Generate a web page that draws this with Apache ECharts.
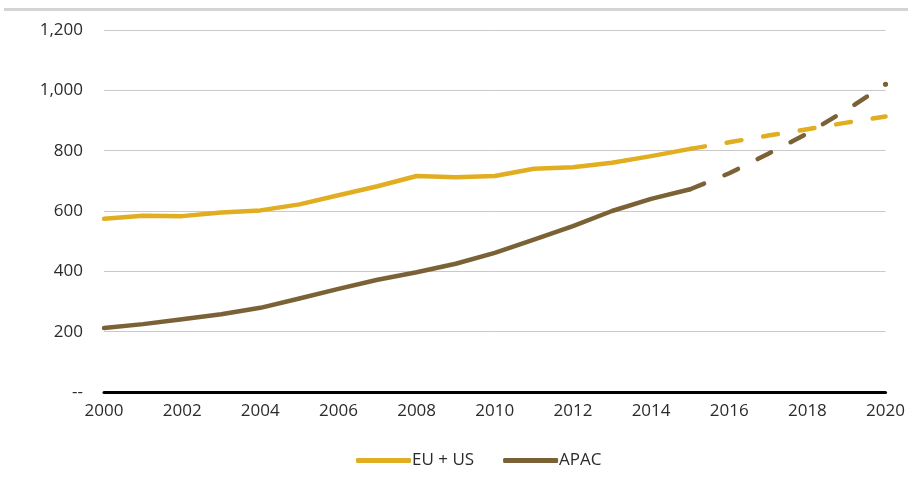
<!DOCTYPE html>
<html>
<head>
<meta charset="utf-8">
<script src="https://cdn.jsdelivr.net/npm/echarts@6/dist/echarts.min.js"></script>
<style>
  html, body { margin: 0; padding: 0; background: #fff; }
  #chart { width: 908px; height: 478px; }
</style>
</head>
<body>
<div id="chart"></div>
<script>
// Years on the x axis
var years = ['2000','2001','2002','2003','2004','2005','2006','2007','2008','2009','2010',
             '2011','2012','2013','2014','2015','2016','2017','2018','2019','2020'];

// Historical values (2000-2015)
var euUsActual = [574, 584, 583, 595, 602, 622, 652, 682, 716, 712, 716, 740, 745, 760, 782, 806];
var apacActual = [212, 225, 241, 258, 279, 310, 342, 372, 397, 425, 461, 505, 550, 600, 640, 672];

// Projected values (2015-2020)
var euUsForecast = [806, 828, 850, 871, 893, 913];
var apacForecast = [672, 725, 790, 857, 935, 1020];

var yTicks = [0, 200, 400, 600, 800, 1000, 1200];

var gold = '#E1AD21';
var brown = '#7B6236';

function padTo(arr, offset) {
  var out = [];
  for (var i = 0; i < years.length; i++) {
    var j = i - offset;
    out.push(j >= 0 && j < arr.length ? arr[j] : null);
  }
  return out;
}

var forecastStart = years.indexOf('2015');
var apacForecastData = padTo(apacForecast, forecastStart).map(function (v, i) {
  if (i === years.length - 1 && v != null) {
    return { value: v, symbol: 'circle', symbolSize: 5 };
  }
  return v;
});

var chart = echarts.init(document.getElementById('chart'));
chart.setOption({
  animation: false,
  textStyle: { fontFamily: 'Open Sans' },
  graphic: [{
    type: 'rect',
    shape: { x: 4, y: 8, width: 904, height: 3 },
    style: { fill: '#d4d4d4' },
    silent: true
  }],
  grid: { left: 104, right: 22, top: 30, bottom: 86, containLabel: false },
  legend: {
    left: 351,
    top: 447,
    itemWidth: 55,
    itemHeight: 5,
    itemGap: 29,
    icon: 'roundRect',
    textStyle: { fontSize: 17, color: '#2b2b2b', padding: [0, 0, 0, -4] },
    data: ['EU + US', 'APAC']
  },
  xAxis: {
    type: 'category',
    data: years,
    boundaryGap: false,
    axisLine: { show: true, lineStyle: { color: '#000', width: 3 } },
    axisTick: { show: false },
    axisLabel: {
      interval: 1,
      fontSize: 17,
      color: '#2b2b2b',
      margin: 11
    },
    splitLine: { show: false }
  },
  yAxis: {
    type: 'value',
    min: yTicks[0],
    max: yTicks[yTicks.length - 1],
    interval: 200,
    axisLine: { show: false },
    axisTick: { show: false },
    axisLabel: {
      fontSize: 17,
      color: '#2b2b2b',
      margin: 21,
      formatter: function (v) {
        if (v === 0) return '--';
        return v.toLocaleString('en-US');
      }
    },
    splitLine: { lineStyle: { color: '#c9c9c9', width: 1 } }
  },
  series: [
    {
      name: 'EU + US',
      type: 'line',
      data: padTo(euUsActual, 0),
      symbol: 'none',
      color: gold,
      lineStyle: { color: gold, width: 4.5, cap: 'round', join: 'round' },
      z: 3
    },
    {
      name: 'APAC',
      type: 'line',
      data: padTo(apacActual, 0),
      symbol: 'none',
      color: brown,
      lineStyle: { color: brown, width: 4.5, cap: 'round', join: 'round' },
      z: 3
    },
    {
      name: 'EU + US forecast',
      type: 'line',
      data: padTo(euUsForecast, forecastStart),
      symbol: 'none',
      color: gold,
      lineStyle: { color: gold, width: 4.5, type: [15, 22], cap: 'round', join: 'round' },
      z: 2
    },
    {
      name: 'APAC forecast',
      type: 'line',
      data: apacForecastData,
      symbol: 'none',
      showSymbol: true,
      color: brown,
      itemStyle: { color: brown },
      lineStyle: { color: brown, width: 4.5, type: [15, 22], cap: 'round', join: 'round' },
      z: 2
    }
  ]
});
</script>
</body>
</html>
